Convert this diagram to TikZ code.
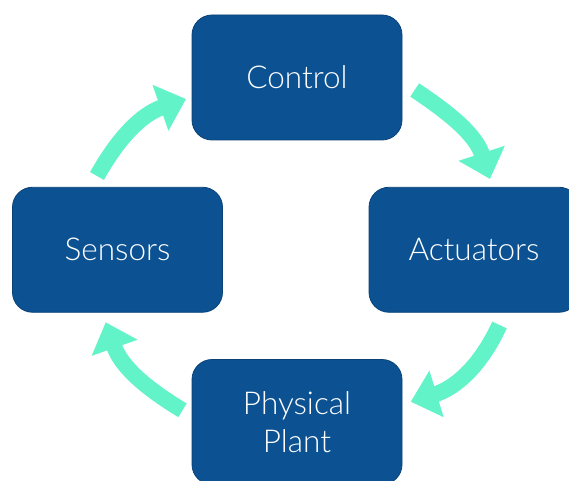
\documentclass[tikz,border=0pt]{standalone}
\usepackage{fontspec}
\newfontfamily\lbl{Lato Light}
\usetikzlibrary{arrows.meta}
\definecolor{boxblue}{RGB}{12,82,147}
\definecolor{boxedge}{RGB}{10,66,118}
\definecolor{mint}{RGB}{98,243,201}
\tikzset{
  stage/.style={draw=boxedge, line width=0.8pt, fill=boxblue, rounded corners=20pt,
    minimum width=210pt, minimum height=125pt, inner sep=0pt,
    text=white, align=center, font=\lbl\fontsize{31.5}{38.5}\selectfont},
  cyclearrow/.style={draw=mint, line width=16pt,
    -{Triangle[width=47pt,length=27pt]}}
}
\begin{document}
\begin{tikzpicture}[x=1pt,y=1pt]
  \useasboundingbox (0,0) rectangle (569,480);
  \clip (0,0) rectangle (569,480);
  % the four stages of the loop
  \node[stage] (control)  at (297,402.5) {Control};
  \node[stage] (actuators) at (474,230.25) {Actuators};
  \node[stage] (plant)    at (297,58) {Physical\\Plant};
  \node[stage] (sensors)  at (117.5,230.25) {Sensors};
  % end points of the curved arrows
  \coordinate (s1) at (97,304);    \coordinate (t1) at (186,381);
  \coordinate (s2) at (414.7,390); \coordinate (t2) at (490,301);
  \coordinate (s3) at (499.5,155); \coordinate (t3) at (410.7,78.3);
  \coordinate (s4) at (182.5,69.7); \coordinate (t4) at (105.7,157.7);
  % clockwise flow between the stages
  \draw[cyclearrow] (s1) to[out=60.8,in=199.1] (t1);
  \draw[cyclearrow] (s2) to[out=-33.6,in=108] (t2);
  \draw[cyclearrow] (s3) to[out=-114.6,in=16.9] (t3);
  \draw[cyclearrow] (s4) to[out=149,in=-70.7] (t4);
\end{tikzpicture}
\end{document}
